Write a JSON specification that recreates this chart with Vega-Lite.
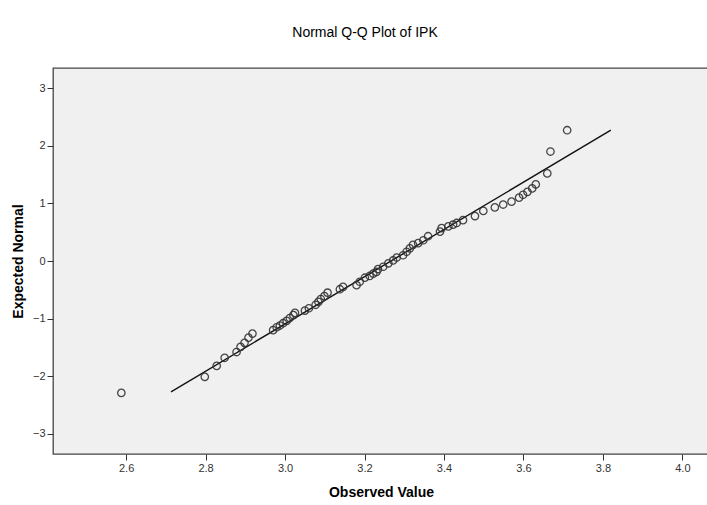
{
  "$schema": "https://vega.github.io/schema/vega-lite/v6.json",
  "autosize": {"type": "none"},
  "padding": {"left": 53, "top": 68, "right": 0, "bottom": 51},
  "width": 656,
  "height": 386,
  "background": "white",
  "title": {
    "text": "Normal Q-Q Plot of IPK",
    "font": "Liberation Sans",
    "fontSize": 14,
    "fontWeight": "normal",
    "color": "#000000",
    "anchor": "middle",
    "dx": -16,
    "offset": 28
  },
  "config": {
    "view": {"fill": "#f0f0f0", "stroke": "#444444", "strokeWidth": 1.3},
    "axis": {
      "grid": false,
      "domain": false,
      "tickColor": "#333333",
      "tickSize": 6,
      "tickWidth": 1,
      "labelFont": "Liberation Sans",
      "labelFontSize": 11,
      "labelColor": "#333333",
      "labelPadding": 2,
      "titleFont": "Liberation Sans",
      "titleFontSize": 14,
      "titleFontWeight": "bold",
      "titleColor": "#000000"
    }
  },
  "datasets": {
    "points": [
      {"observed": 2.588, "expected": -2.29},
      {"observed": 2.798, "expected": -2.01},
      {"observed": 2.828, "expected": -1.82},
      {"observed": 2.848, "expected": -1.68},
      {"observed": 2.878, "expected": -1.58},
      {"observed": 2.888, "expected": -1.49},
      {"observed": 2.898, "expected": -1.42},
      {"observed": 2.908, "expected": -1.33},
      {"observed": 2.918, "expected": -1.26},
      {"observed": 2.970, "expected": -1.20},
      {"observed": 2.979, "expected": -1.15},
      {"observed": 2.987, "expected": -1.12},
      {"observed": 2.995, "expected": -1.08},
      {"observed": 3.004, "expected": -1.04},
      {"observed": 3.012, "expected": -0.99},
      {"observed": 3.021, "expected": -0.94},
      {"observed": 3.025, "expected": -0.90},
      {"observed": 3.050, "expected": -0.86},
      {"observed": 3.060, "expected": -0.82},
      {"observed": 3.077, "expected": -0.76},
      {"observed": 3.084, "expected": -0.71},
      {"observed": 3.090, "expected": -0.66},
      {"observed": 3.099, "expected": -0.61},
      {"observed": 3.107, "expected": -0.55},
      {"observed": 3.138, "expected": -0.49},
      {"observed": 3.146, "expected": -0.45},
      {"observed": 3.180, "expected": -0.42},
      {"observed": 3.188, "expected": -0.36},
      {"observed": 3.201, "expected": -0.29},
      {"observed": 3.213, "expected": -0.26},
      {"observed": 3.222, "expected": -0.22},
      {"observed": 3.230, "expected": -0.19},
      {"observed": 3.234, "expected": -0.14},
      {"observed": 3.247, "expected": -0.10},
      {"observed": 3.260, "expected": -0.04},
      {"observed": 3.272, "expected": 0.01},
      {"observed": 3.281, "expected": 0.06},
      {"observed": 3.297, "expected": 0.10},
      {"observed": 3.306, "expected": 0.16},
      {"observed": 3.314, "expected": 0.22},
      {"observed": 3.322, "expected": 0.28},
      {"observed": 3.335, "expected": 0.31},
      {"observed": 3.348, "expected": 0.36},
      {"observed": 3.360, "expected": 0.43},
      {"observed": 3.390, "expected": 0.51},
      {"observed": 3.394, "expected": 0.57},
      {"observed": 3.411, "expected": 0.60},
      {"observed": 3.423, "expected": 0.63},
      {"observed": 3.432, "expected": 0.66},
      {"observed": 3.448, "expected": 0.71},
      {"observed": 3.478, "expected": 0.78},
      {"observed": 3.499, "expected": 0.87},
      {"observed": 3.528, "expected": 0.93},
      {"observed": 3.549, "expected": 0.98},
      {"observed": 3.570, "expected": 1.03},
      {"observed": 3.589, "expected": 1.10},
      {"observed": 3.599, "expected": 1.15},
      {"observed": 3.610, "expected": 1.20},
      {"observed": 3.622, "expected": 1.26},
      {"observed": 3.631, "expected": 1.33},
      {"observed": 3.660, "expected": 1.52},
      {"observed": 3.668, "expected": 1.90},
      {"observed": 3.710, "expected": 2.27}
    ],
    "refline": [
      {"observed": 2.713, "expected": -2.27},
      {"observed": 3.820, "expected": 2.27}
    ]
  },
  "layer": [
    {
      "data": {"name": "refline"},
      "mark": {"type": "line", "color": "#111111", "strokeWidth": 1.4, "clip": true},
      "encoding": {
        "x": {"field": "observed", "type": "quantitative"},
        "y": {"field": "expected", "type": "quantitative"}
      }
    },
    {
      "data": {"name": "points"},
      "mark": {"type": "point", "shape": "circle", "filled": false, "size": 55, "stroke": "#333333", "strokeWidth": 1.3, "opacity": 0.9},
      "encoding": {
        "x": {
          "field": "observed",
          "type": "quantitative",
          "title": "Observed Value",
          "scale": {"domain": [2.416, 4.067], "nice": false, "zero": false},
          "axis": {"values": [2.6, 2.8, 3.0, 3.2, 3.4, 3.6, 3.8, 4.0], "format": ".1f", "titlePadding": 12}
        },
        "y": {
          "field": "expected",
          "type": "quantitative",
          "title": "Expected Normal",
          "scale": {"domain": [-3.35, 3.35], "nice": false, "zero": false},
          "axis": {"values": [-3, -2, -1, 0, 1, 2, 3], "format": "d", "titlePadding": 7}
        }
      }
    }
  ]
}
